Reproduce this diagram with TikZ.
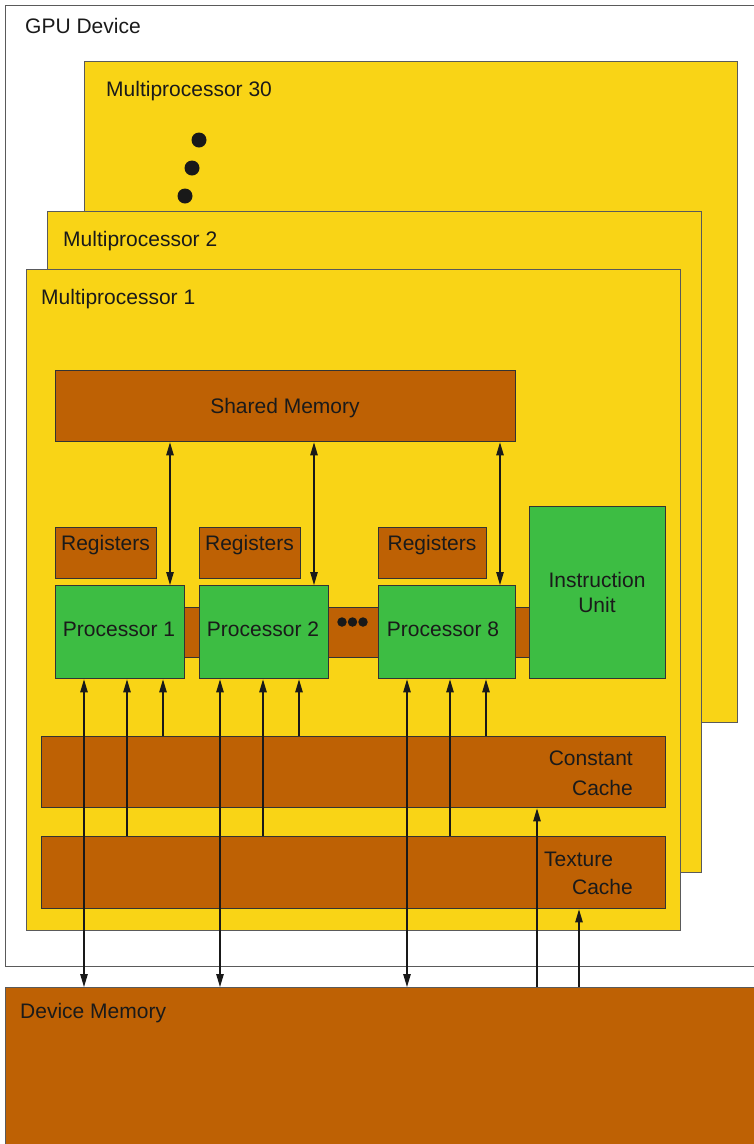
\documentclass[tikz,border=0pt]{standalone}
\usepackage{fontspec}
\setmainfont{Liberation Sans}
\usetikzlibrary{arrows.meta}
\definecolor{mpyellow}{HTML}{F9D416}
\definecolor{membrown}{HTML}{BE6104}
\definecolor{procgreen}{HTML}{3DBD43}
\definecolor{edgegray}{HTML}{5A5A5A}
\definecolor{txt}{HTML}{1A1A1A}
\tikzset{
  blk/.style={rectangle, inner sep=0pt, anchor=north west, line width=1.4pt},
  mpbox/.style={blk, fill=mpyellow, draw=edgegray},
  membox/.style={blk, fill=membrown, draw=black!80},
  procbox/.style={blk, fill=procgreen, draw=black!80},
  lbl/.style={inner sep=0pt, text=txt, font=\fontsize{21}{25}\selectfont},
  onearr/.style={line width=1.1pt, draw=black!90, -{Triangle[length=13pt,width=7.5pt]}},
  twoarr/.style={line width=1.1pt, draw=black!90, {Triangle[length=13pt,width=7.5pt]}-{Triangle[length=13pt,width=7.5pt]}},
  dotmark/.style={circle, fill=black!90, inner sep=0pt}
}
\begin{document}
\begin{tikzpicture}[x=1pt,y=-1pt]
\useasboundingbox (0,0) rectangle (753,1144);
% GPU device and device memory
\node[blk, fill=white, draw=edgegray, minimum width=780pt, minimum height=961pt] (gpu) at (4.5,4.5) {};
\node[blk, fill=membrown, draw=edgegray, minimum width=780pt, minimum height=170pt] (dm) at (4.5,987) {};
% multiprocessors
\node[mpbox, minimum width=653pt, minimum height=661pt] (mp30) at (84,61) {};
\node[dotmark, minimum size=15pt] (d1) at (199,140) {};
\node[dotmark, minimum size=15pt] (d2) at (192,168) {};
\node[dotmark, minimum size=15pt] (d3) at (185,196) {};
\node[mpbox, minimum width=654pt, minimum height=661pt] (mp2) at (47,211) {};
\node[mpbox, minimum width=654pt, minimum height=661pt] (mp1) at (26,269) {};
% shared memory
\node[membox, minimum width=460pt, minimum height=71pt] (sm) at (55,370) {};
% registers
\node[membox, minimum width=101pt, minimum height=51pt] (r1) at (55,527) {};
\node[membox, minimum width=101pt, minimum height=51pt] (r2) at (199,527) {};
\node[membox, minimum width=108pt, minimum height=51pt] (r8) at (378,527) {};
% bar behind processors
\node[membox, minimum width=350pt, minimum height=50pt] (bar) at (180,607) {};
\node[dotmark, minimum size=9.5pt] (b1) at (342,622) {};
\node[dotmark, minimum size=9.5pt] (b2) at (352.5,622) {};
\node[dotmark, minimum size=9.5pt] (b3) at (363,622) {};
% processors
\node[procbox, minimum width=129pt, minimum height=93pt] (p1) at (55,585) {};
\node[procbox, minimum width=129pt, minimum height=93pt] (p2) at (199,585) {};
\node[procbox, minimum width=137pt, minimum height=93pt] (p8) at (378,585) {};
\node[procbox, minimum width=136pt, minimum height=172pt] (iu) at (529,506) {};
% caches
\node[membox, minimum width=624pt, minimum height=71pt] (cc) at (41,736) {};
\node[membox, minimum width=624pt, minimum height=72pt] (tc) at (41,836) {};
% column coordinates
\foreach \c in {84,127,163,170,220,263,299,314,407,450,486,500,537,579}
  \coordinate (c\c) at (\c,0);
% shared memory <-> processors
\draw[twoarr] (sm.south -| c170) -- (p1.north -| c170);
\draw[twoarr] (sm.south -| c314) -- (p2.north -| c314);
\draw[twoarr] (sm.south -| c500) -- (p8.north -| c500);
% processors <-> device memory
\draw[twoarr] (p1.south -| c84) -- (dm.north -| c84);
\draw[twoarr] (p2.south -| c220) -- (dm.north -| c220);
\draw[twoarr] (p8.south -| c407) -- (dm.north -| c407);
% texture cache -> processors
\draw[onearr] (tc.north -| c127) -- (p1.south -| c127);
\draw[onearr] (tc.north -| c263) -- (p2.south -| c263);
\draw[onearr] (tc.north -| c450) -- (p8.south -| c450);
% constant cache -> processors
\draw[onearr] (cc.north -| c163) -- (p1.south -| c163);
\draw[onearr] (cc.north -| c299) -- (p2.south -| c299);
\draw[onearr] (cc.north -| c486) -- (p8.south -| c486);
% device memory -> caches
\draw[onearr] (dm.north -| c537) -- (cc.south -| c537);
\draw[onearr] (dm.north -| c579) -- (tc.south -| c579);
% labels
\node[lbl, anchor=base west] (tgpu) at (25,33) {GPU Device};
\node[lbl, anchor=base west] (tmp30) at (106,96) {Multiprocessor 30};
\node[lbl, anchor=base west] (tmp2) at (63,246) {Multiprocessor 2};
\node[lbl, anchor=base west] (tmp1) at (41,304) {Multiprocessor 1};
\node[lbl, anchor=base] (tsm) at (285,413) {Shared Memory};
\node[lbl, anchor=base] (tr1) at (105.5,550) {Registers};
\node[lbl, anchor=base] (tr2) at (249.5,550) {Registers};
\node[lbl, anchor=base] (tr8) at (432,550) {Registers};
\node[lbl, anchor=base] (tp1) at (119,636) {Processor 1};
\node[lbl, anchor=base] (tp2) at (263,636) {Processor 2};
\node[lbl, anchor=base] (tp8) at (443,636) {Processor 8};
\node[lbl, anchor=base] (tiu1) at (597,587) {Instruction};
\node[lbl, anchor=base] (tiu2) at (597,612) {Unit};
\node[lbl, anchor=base east] (tcc1) at (633,765) {Constant};
\node[lbl, anchor=base east] (tcc2) at (633,795) {Cache};
\node[lbl, anchor=base west] (ttc1) at (544,866) {Texture};
\node[lbl, anchor=base east] (ttc2) at (633,894) {Cache};
\node[lbl, anchor=base west] (tdm) at (20,1018) {Device Memory};
\end{tikzpicture}
\end{document}
